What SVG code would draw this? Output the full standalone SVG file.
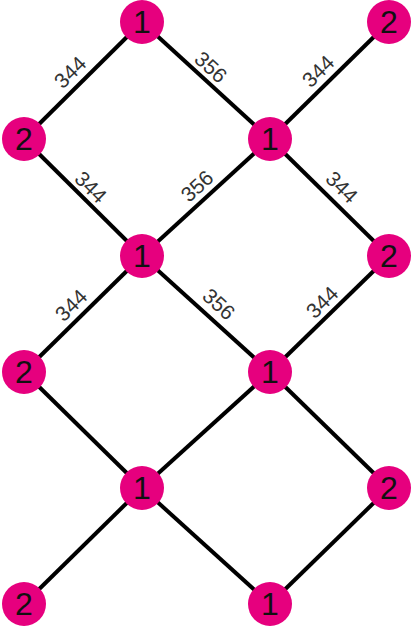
<svg xmlns="http://www.w3.org/2000/svg" width="414" height="628" viewBox="0 0 414 628">
<style>
.e{stroke:#000;stroke-width:4;fill:none}
.n circle{fill:#E6007E}
.n text{font-family:"Liberation Sans",Arial,sans-serif;font-size:32px;fill:#111;text-anchor:middle}
.l{font-family:"Liberation Sans",Arial,sans-serif;font-size:21px;fill:#333;text-anchor:middle;dominant-baseline:central}
</style>
<rect width="414" height="628" fill="#fff"/>
<g id="connectors">
<line class="e" x1="142" y1="22" x2="24" y2="139"/>
<line class="e" x1="142" y1="22" x2="270" y2="139"/>
<line class="e" x1="270" y1="139" x2="389" y2="22"/>
<line class="e" x1="24" y1="139" x2="142" y2="256"/>
<line class="e" x1="270" y1="139" x2="142" y2="256"/>
<line class="e" x1="270" y1="139" x2="389" y2="256"/>
<line class="e" x1="142" y1="256" x2="24" y2="372"/>
<line class="e" x1="142" y1="256" x2="270" y2="372"/>
<line class="e" x1="270" y1="372" x2="389" y2="256"/>
<line class="e" x1="270" y1="372" x2="142" y2="488"/>
<line class="e" x1="270" y1="372" x2="389" y2="488"/>
<line class="e" x1="24" y1="372" x2="142" y2="488"/>
<line class="e" x1="142" y1="488" x2="24" y2="604"/>
<line class="e" x1="142" y1="488" x2="270" y2="604"/>
<line class="e" x1="270" y1="604" x2="389" y2="488"/>
<text class="l" transform="translate(70,72) rotate(-44.8)">344</text>
<text class="l" transform="translate(211,67) rotate(42.4)">356</text>
<text class="l" transform="translate(318,71) rotate(-44.8)">344</text>
<text class="l" transform="translate(91,187) rotate(44.8)">344</text>
<text class="l" transform="translate(197,186) rotate(-42.4)">356</text>
<text class="l" transform="translate(342,187) rotate(44.8)">344</text>
<text class="l" transform="translate(71,305) rotate(-44.8)">344</text>
<text class="l" transform="translate(219,304) rotate(42.4)">356</text>
<text class="l" transform="translate(322,302) rotate(-44.8)">344</text>
</g>
<g id="n1" class="n"><circle cx="142" cy="22" r="22"/><text x="142" y="33">1</text></g>
<g id="n2" class="n"><circle cx="389" cy="22" r="22"/><text x="389" y="33">2</text></g>
<g id="n3" class="n"><circle cx="24" cy="139" r="22"/><text x="24" y="150">2</text></g>
<g id="n4" class="n"><circle cx="270" cy="139" r="22"/><text x="270" y="150">1</text></g>
<g id="n5" class="n"><circle cx="142" cy="256" r="22"/><text x="142" y="267">1</text></g>
<g id="n6" class="n"><circle cx="389" cy="256" r="22"/><text x="389" y="267">2</text></g>
<g id="n7" class="n"><circle cx="24" cy="372" r="22"/><text x="24" y="383">2</text></g>
<g id="n8" class="n"><circle cx="270" cy="372" r="22"/><text x="270" y="383">1</text></g>
<g id="n9" class="n"><circle cx="142" cy="488" r="22"/><text x="142" y="499">1</text></g>
<g id="n10" class="n"><circle cx="389" cy="488" r="22"/><text x="389" y="499">2</text></g>
<g id="n11" class="n"><circle cx="24" cy="604" r="22"/><text x="24" y="615">2</text></g>
<g id="n12" class="n"><circle cx="270" cy="604" r="22"/><text x="270" y="615">1</text></g>
</svg>
